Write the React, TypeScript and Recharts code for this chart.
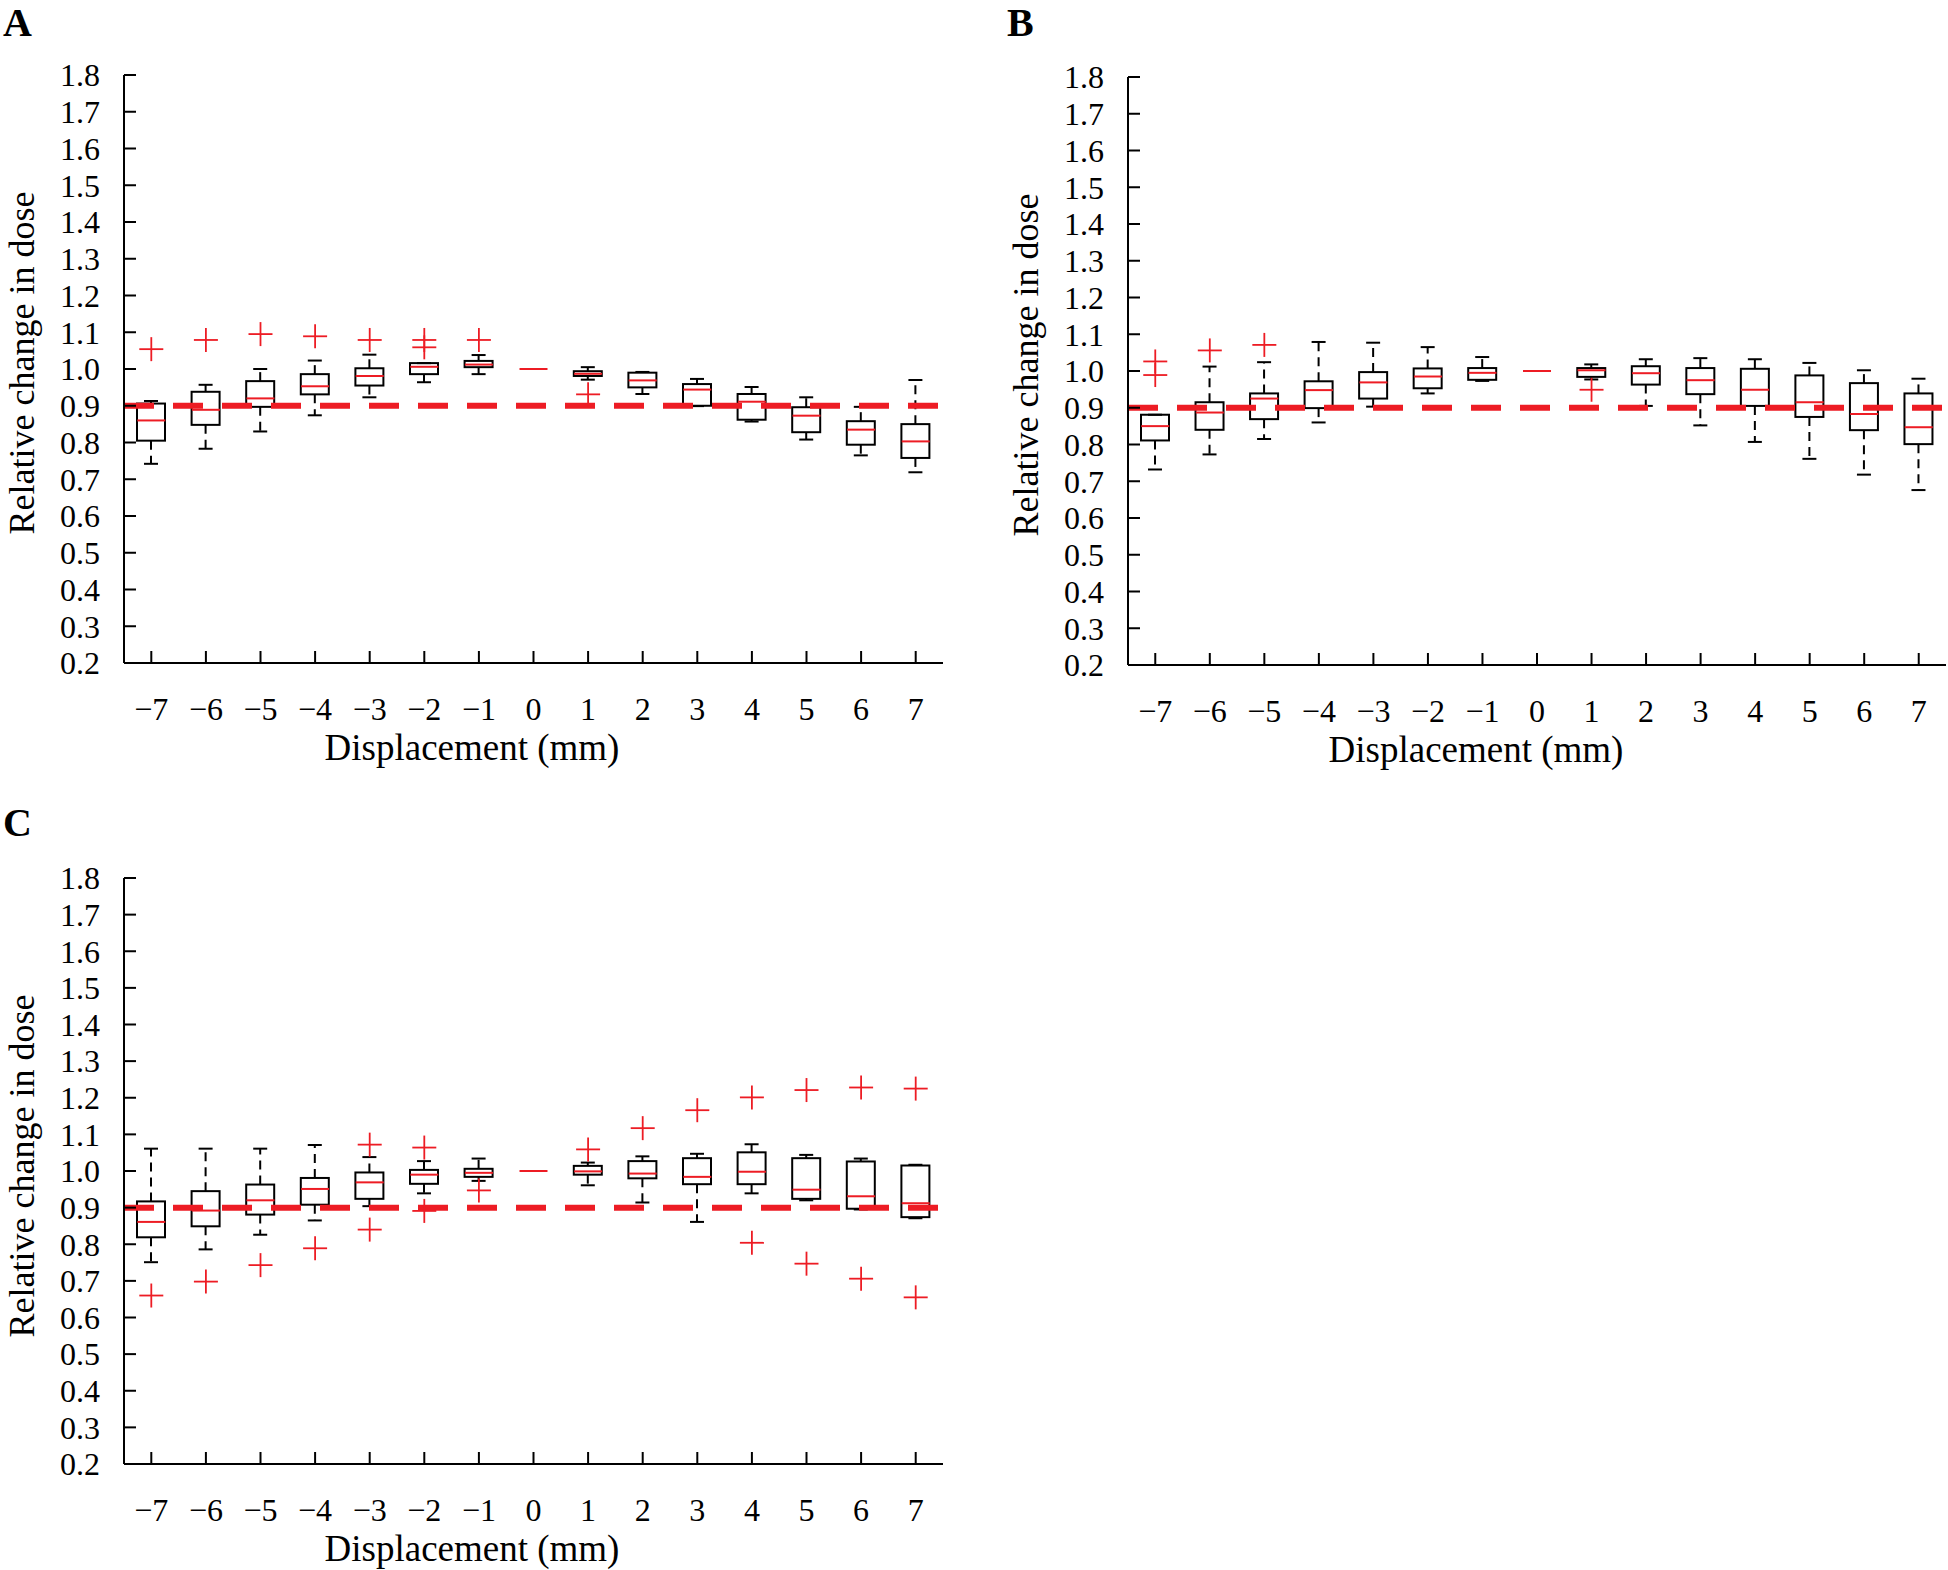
import React from 'react';
import { ComposedChart, Bar, Scatter, XAxis, YAxis, ReferenceLine } from 'recharts';

// ---------- shared axis data ----------
const displacement = [-7, -6, -5, -4, -3, -2, -1, 0, 1, 2, 3, 4, 5, 6, 7];
const yTicks = [0.2, 0.3, 0.4, 0.5, 0.6, 0.7, 0.8, 0.9, 1.0, 1.1, 1.2, 1.3, 1.4, 1.5, 1.6, 1.7, 1.8];
const threshold = 0.9;

// ---------- Panel A ----------
const aWhiskerLow = [0.742, 0.783, 0.830, 0.874, 0.923, 0.964, 0.986, null, 0.971, 0.932, 0.899, 0.857, 0.808, 0.765, 0.719];
const aQ1 = [0.805, 0.848, 0.897, 0.931, 0.955, 0.986, 1.005, null, 0.981, 0.950, 0.900, 0.862, 0.828, 0.794, 0.758];
const aMedian = [0.860, 0.889, 0.920, 0.953, 0.981, 1.006, 1.012, 1.000, 0.987, 0.969, 0.944, 0.911, 0.873, 0.835, 0.803];
const aQ3 = [0.906, 0.938, 0.967, 0.986, 1.002, 1.016, 1.022, null, 0.994, 0.990, 0.959, 0.932, 0.896, 0.858, 0.850];
const aWhiskerHigh = [0.913, 0.957, 1.000, 1.023, 1.039, 1.016, 1.038, null, 1.005, 0.992, 0.973, 0.951, 0.923, 0.897, 0.970];
const aOutlierX = [-7, -6, -5, -4, -3, -2, -2, -1, 1];
const aOutlierY = [1.054, 1.079, 1.095, 1.089, 1.079, 1.079, 1.059, 1.079, 0.931];

// ---------- Panel B ----------
const bWhiskerLow = [0.732, 0.773, 0.815, 0.860, 0.903, 0.939, 0.973, null, 0.977, 0.905, 0.852, 0.807, 0.761, 0.718, 0.676];
const bQ1 = [0.811, 0.840, 0.869, 0.899, 0.925, 0.953, 0.976, null, 0.984, 0.963, 0.937, 0.905, 0.875, 0.839, 0.801];
const bMedian = [0.850, 0.887, 0.925, 0.948, 0.969, 0.985, 0.995, 1.000, 1.002, 0.994, 0.975, 0.949, 0.915, 0.883, 0.847];
const bQ3 = [0.881, 0.915, 0.939, 0.972, 0.997, 1.007, 1.008, null, 1.008, 1.013, 1.008, 1.006, 0.988, 0.967, 0.939];
const bWhiskerHigh = [0.881, 1.012, 1.024, 1.079, 1.077, 1.065, 1.038, null, 1.018, 1.032, 1.035, 1.032, 1.022, 1.002, 0.979];
const bOutlierX = [-7, -7, -6, -5, 1];
const bOutlierY = [1.026, 0.989, 1.056, 1.071, 0.949];

// ---------- Panel C ----------
const cWhiskerLow = [0.751, 0.786, 0.826, 0.865, 0.904, 0.939, 0.973, null, 0.961, 0.914, 0.861, 0.939, 0.920, 0.895, 0.871];
const cQ1 = [0.819, 0.849, 0.881, 0.908, 0.924, 0.965, 0.984, null, 0.990, 0.980, 0.964, 0.964, 0.924, 0.897, 0.874];
const cMedian = [0.861, 0.892, 0.920, 0.951, 0.969, 0.990, 0.995, 1.000, 0.999, 0.993, 0.984, 0.998, 0.949, 0.931, 0.912];
const cQ3 = [0.917, 0.945, 0.963, 0.981, 0.996, 1.003, 1.006, null, 1.014, 1.027, 1.035, 1.051, 1.035, 1.026, 1.015];
const cWhiskerHigh = [1.061, 1.061, 1.061, 1.071, 1.038, 1.027, 1.034, null, 1.023, 1.040, 1.047, 1.073, 1.044, 1.034, 1.017];
const cOutlierX = [-7, -6, -5, -4, -3, -3, -2, -2, -1, 1, 2, 3, 4, 4, 5, 5, 6, 6, 7, 7];
const cOutlierY = [0.660, 0.698, 0.743, 0.789, 1.072, 0.840, 1.064, 0.891, 0.947, 1.059, 1.117, 1.166, 1.201, 0.804, 1.221, 0.747, 1.228, 0.706, 1.225, 0.655];

// ---------- style ----------
const RED = '#ed1c24';
const FONT = '"Liberation Serif", "Times New Roman", serif';

const fmtX = (v: number) => (v < 0 ? '\u2212' + Math.abs(v) : String(v));
const fmtY = (v: number) => v.toFixed(1);
const blank = () => '';

function buildRows(wLo: (number | null)[], q1: (number | null)[], q3: (number | null)[], wHi: (number | null)[]) {
  return displacement.map((x, i) => ({
    x,
    range: wLo[i] == null ? null : [wLo[i], wHi[i]],
    wLo: wLo[i],
    q1: q1[i],
    q3: q3[i],
    wHi: wHi[i],
  }));
}
function buildMedians(med: number[]) {
  return displacement.map((x, i) => ({ x, y: med[i] }));
}
function buildOutliers(xs: number[], ys: number[]) {
  return xs.map((x, i) => ({ x, y: ys[i] }));
}

const BoxShape = (props: any) => {
  const { x, y, width, height, payload } = props;
  if (!payload || payload.wLo == null || !isFinite(y) || !isFinite(height)) return <g />;
  const hi = payload.wHi;
  const lo = payload.wLo;
  const span = hi - lo;
  const top = Math.min(y, y + height);
  const bottom = Math.max(y, y + height);
  const py = (v: number) => (span === 0 ? top : top + ((hi - v) / span) * (bottom - top));
  const cx = x + width / 2;
  const yQ3 = py(payload.q3);
  const yQ1 = py(payload.q1);
  const yHi = py(hi);
  const yLo = py(lo);
  const cap = 7;
  return (
    <g>
      {yHi < yQ3 - 0.5 && (
        <line x1={cx} x2={cx} y1={yQ3} y2={yHi} stroke="#000" strokeWidth={2} strokeDasharray="9 6" />
      )}
      {yLo > yQ1 + 0.5 && (
        <line x1={cx} x2={cx} y1={yQ1} y2={yLo} stroke="#000" strokeWidth={2} strokeDasharray="9 6" />
      )}
      <line x1={cx - cap} x2={cx + cap} y1={yHi} y2={yHi} stroke="#000" strokeWidth={2} />
      <line x1={cx - cap} x2={cx + cap} y1={yLo} y2={yLo} stroke="#000" strokeWidth={2} />
      <rect
        x={x}
        y={Math.min(yQ3, yQ1)}
        width={width}
        height={Math.abs(yQ1 - yQ3)}
        fill="none"
        stroke="#000"
        strokeWidth={2}
      />
    </g>
  );
};

const MedianShape = (props: any) => {
  const { cx, cy } = props;
  if (!isFinite(cx) || !isFinite(cy)) return <g />;
  return <line x1={cx - 14} x2={cx + 14} y1={cy} y2={cy} stroke={RED} strokeWidth={2} />;
};

const PlusShape = (props: any) => {
  const { cx, cy } = props;
  if (!isFinite(cx) || !isFinite(cy)) return <g />;
  return (
    <g>
      <line x1={cx - 12} x2={cx + 12} y1={cy} y2={cy} stroke={RED} strokeWidth={1.8} />
      <line x1={cx} x2={cx} y1={cy - 12} y2={cy + 12} stroke={RED} strokeWidth={1.8} />
    </g>
  );
};

const axisLine = { stroke: '#000', strokeWidth: 2 };
const tickLine = { stroke: '#000', strokeWidth: 2 };
const tickStyle = { fill: '#000', fontSize: 32, fontFamily: FONT };

type PanelProps = {
  rows: any[];
  medians: any[];
  outliers: any[];
  width: number;
  height: number;
  margin: { top: number; right: number; bottom: number; left: number };
  xAxisHeight: number;
};

function BoxPanel({ rows, medians, outliers, width, height, margin, xAxisHeight }: PanelProps) {
  return (
    <ComposedChart width={width} height={height} data={rows} margin={margin}>
      <XAxis
        xAxisId="b"
        dataKey="x"
        type="number"
        domain={[-7.5, 7.5]}
        ticks={displacement}
        interval={0}
        allowDataOverflow
        tickFormatter={fmtX}
        tickSize={-12}
        tickMargin={46}
        height={xAxisHeight}
        axisLine={axisLine}
        tickLine={tickLine}
        tick={tickStyle}
      />
      <XAxis
        xAxisId="t"
        orientation="top"
        dataKey="x"
        type="number"
        domain={[-7.5, 7.5]}
        ticks={displacement}
        interval={0}
        allowDataOverflow
        tickFormatter={blank}
        tickSize={-12}
        height={0}
        axisLine={axisLine}
        tickLine={tickLine}
        tick={tickStyle}
      />
      <YAxis
        yAxisId="l"
        type="number"
        domain={[0.2, 1.8]}
        ticks={yTicks}
        interval={0}
        allowDataOverflow
        tickFormatter={fmtY}
        tickSize={-12}
        tickMargin={36}
        width={124}
        axisLine={axisLine}
        tickLine={tickLine}
        tick={tickStyle}
      />
      <YAxis
        yAxisId="r"
        orientation="right"
        type="number"
        domain={[0.2, 1.8]}
        ticks={yTicks}
        interval={0}
        allowDataOverflow
        tickFormatter={blank}
        tickSize={-12}
        width={0}
        axisLine={axisLine}
        tickLine={tickLine}
        tick={tickStyle}
      />
      <Bar
        xAxisId="b"
        yAxisId="l"
        dataKey="range"
        barSize={28}
        shape={BoxShape}
        isAnimationActive={false}
      />
      <Scatter
        xAxisId="b"
        yAxisId="l"
        data={medians}
        dataKey="y"
        shape={MedianShape}
        isAnimationActive={false}
      />
      <Scatter
        xAxisId="b"
        yAxisId="l"
        data={outliers}
        dataKey="y"
        shape={PlusShape}
        isAnimationActive={false}
      />
      <ReferenceLine
        xAxisId="b"
        yAxisId="l"
        y={threshold}
        stroke={RED}
        strokeWidth={6}
        strokeDasharray="30 19"
      />
    </ComposedChart>
  );
}

const rowsA = buildRows(aWhiskerLow, aQ1, aQ3, aWhiskerHigh);
const rowsB = buildRows(bWhiskerLow, bQ1, bQ3, bWhiskerHigh);
const rowsC = buildRows(cWhiskerLow, cQ1, cQ3, cWhiskerHigh);

export default function App() {
  const yTitle = 'Relative change in dose';
  const xTitle = 'Displacement (mm)';
  return (
    <div
      style={{
        position: 'absolute',
        left: 0,
        top: 0,
        width: 1948,
        height: 1570,
        overflow: 'hidden',
        background: '#fff',
      }}
    >
      <div style={{ position: 'absolute', left: 0, top: 0 }}>
        <BoxPanel
          rows={rowsA}
          medians={buildMedians(aMedian)}
          outliers={buildOutliers(aOutlierX, aOutlierY)}
          width={960}
          height={780}
          margin={{ top: 75, right: 17, bottom: 17, left: 0 }}
          xAxisHeight={100}
        />
      </div>
      <div style={{ position: 'absolute', left: 1004, top: 0 }}>
        <BoxPanel
          rows={rowsB}
          medians={buildMedians(bMedian)}
          outliers={buildOutliers(bOutlierX, bOutlierY)}
          width={944}
          height={780}
          margin={{ top: 77, right: 2, bottom: 15, left: 0 }}
          xAxisHeight={100}
        />
      </div>
      <div style={{ position: 'absolute', left: 0, top: 803 }}>
        <BoxPanel
          rows={rowsC}
          medians={buildMedians(cMedian)}
          outliers={buildOutliers(cOutlierX, cOutlierY)}
          width={960}
          height={760}
          margin={{ top: 75, right: 17, bottom: 9, left: 0 }}
          xAxisHeight={90}
        />
      </div>
      <svg
        width={1948}
        height={1570}
        style={{ position: 'absolute', left: 0, top: 0, pointerEvents: 'none' }}
      >
        <g fontFamily={FONT} fill="#000">
          <text x={3} y={36} fontSize={40} fontWeight="bold">A</text>
          <text x={1007} y={36} fontSize={40} fontWeight="bold">B</text>
          <text x={3} y={836} fontSize={40} fontWeight="bold">C</text>

          <text transform="translate(34,363) rotate(-90)" textAnchor="middle" fontSize={36}>{yTitle}</text>
          <text transform="translate(1038,365) rotate(-90)" textAnchor="middle" fontSize={36}>{yTitle}</text>
          <text transform="translate(34,1166) rotate(-90)" textAnchor="middle" fontSize={36}>{yTitle}</text>

          <text x={472} y={760} textAnchor="middle" fontSize={37}>{xTitle}</text>
          <text x={1476} y={762} textAnchor="middle" fontSize={37}>{xTitle}</text>
          <text x={472} y={1561} textAnchor="middle" fontSize={37}>{xTitle}</text>
        </g>
      </svg>
    </div>
  );
}
